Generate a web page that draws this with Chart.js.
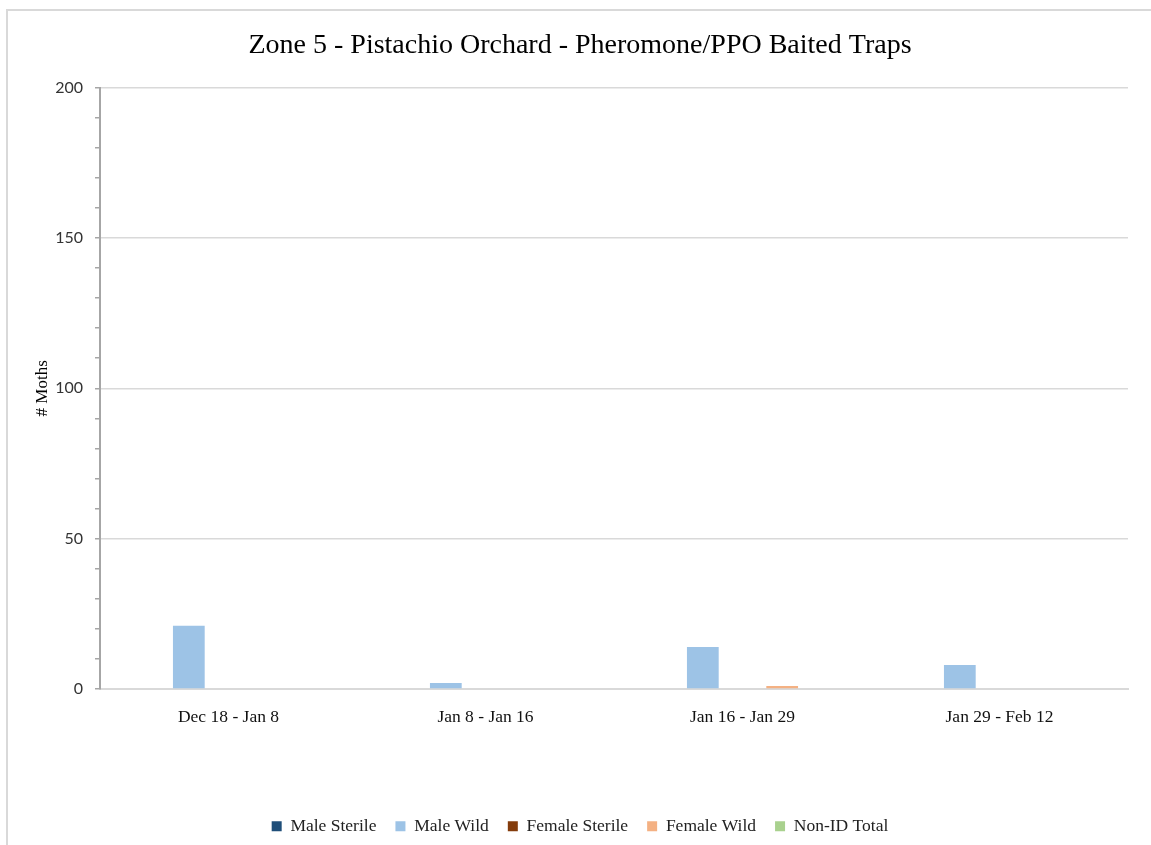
<!DOCTYPE html>
<html>
<head>
<meta charset="utf-8">
<script src="https://cdn.jsdelivr.net/npm/chart.js@4/dist/chart.umd.min.js"></script>
<style>
  html, body { margin: 0; padding: 0; background: #fff; overflow: hidden; }
  #wrap { position: relative; width: 1151px; height: 845px; }
  #frame { position: absolute; left: 6px; top: 9px; width: 1200px; height: 900px; border: 2px solid #d9d9d9; box-sizing: border-box; }
  canvas { position: absolute; left: 0; top: 0; }
</style>
</head>
<body>
<div id="wrap">
  <div id="frame"></div>
  <canvas id="c" width="1151" height="845"></canvas>
</div>
<script>
const categories = ["Dec 18 - Jan 8", "Jan 8 - Jan 16", "Jan 16 - Jan 29", "Jan 29 - Feb 12"];
const maleSterile = [0, 0, 0, 0];
const maleWild = [21, 2, 14, 8];
const femaleSterile = [0, 0, 0, 0];
const femaleWild = [0, 0, 1, 0];
const nonIdTotal = [0, 0, 0, 0];
const yTickLabels = [0, 50, 100, 150, 200];

const serif = "'Liberation Serif', 'Times New Roman', serif";
const sans = "Lato, 'Open Sans', sans-serif";

const ds = (label, data, color) => ({
  label, data, backgroundColor: color, borderWidth: 0,
  categoryPercentage: 0.772, barPercentage: 0.8
});

new Chart(document.getElementById('c'), {
  type: 'bar',
  data: {
    labels: categories,
    datasets: [
      ds('Male Sterile', maleSterile, '#1f4e79'),
      ds('Male Wild', maleWild, '#9dc3e6'),
      ds('Female Sterile', femaleSterile, '#843c0c'),
      ds('Female Wild', femaleWild, '#f4b183'),
      ds('Non-ID Total', nonIdTotal, '#a9d18e')
    ]
  },
  options: {
    responsive: false,
    animation: false,
    layout: { padding: { left: 32, right: 23, top: 0, bottom: 0 } },
    plugins: {
      title: {
        display: true,
        text: 'Zone 5 - Pistachio Orchard - Pheromone/PPO Baited Traps',
        color: '#000',
        font: { family: serif, size: 28, weight: 'normal' },
        padding: { top: 29, bottom: 25 }
      },
      legend: {
        position: 'bottom',
        labels: {
          color: '#222',
          font: { family: serif, size: 17.5 },
          boxWidth: 10, boxHeight: 10, padding: 19
        }
      },
      tooltip: { enabled: false }
    },
    scales: {
      x: {
        afterFit: (s) => { s.height = 109.5; },
        grid: { display: false, drawTicks: false, tickLength: 0 },
        border: { display: true, color: '#d9d9d9', width: 2 },
        ticks: { color: '#111', font: { family: serif, size: 17.5 }, padding: 18 }
      },
      y: {
        min: 0, max: 200,
        afterFit: (s) => { s.width = 68; },
        afterBuildTicks: (s) => {
          const t = [];
          for (let v = 0; v <= 200; v += 10) t.push({ value: v });
          s.ticks = t;
        },
        ticks: {
          stepSize: 10,
          color: '#333',
          font: { family: sans, size: 16 },
          padding: 12,
          callback: (v) => (yTickLabels.includes(v) ? String(v) : '')
        },
        grid: {
          color: (ctx) => (ctx.tick && ctx.tick.value % 50 === 0 ? '#d9d9d9' : 'rgba(0,0,0,0)'),
          tickColor: '#a6a6a6',
          tickLength: 5,
          lineWidth: 1.5
        },
        border: { display: true, color: '#a6a6a6', width: 2 },
        title: {
          display: true, text: '# Moths', color: '#000',
          font: { family: serif, size: 17 }, padding: { top: 0, bottom: 0 }
        }
      }
    }
  }
});
</script>
</body>
</html>
